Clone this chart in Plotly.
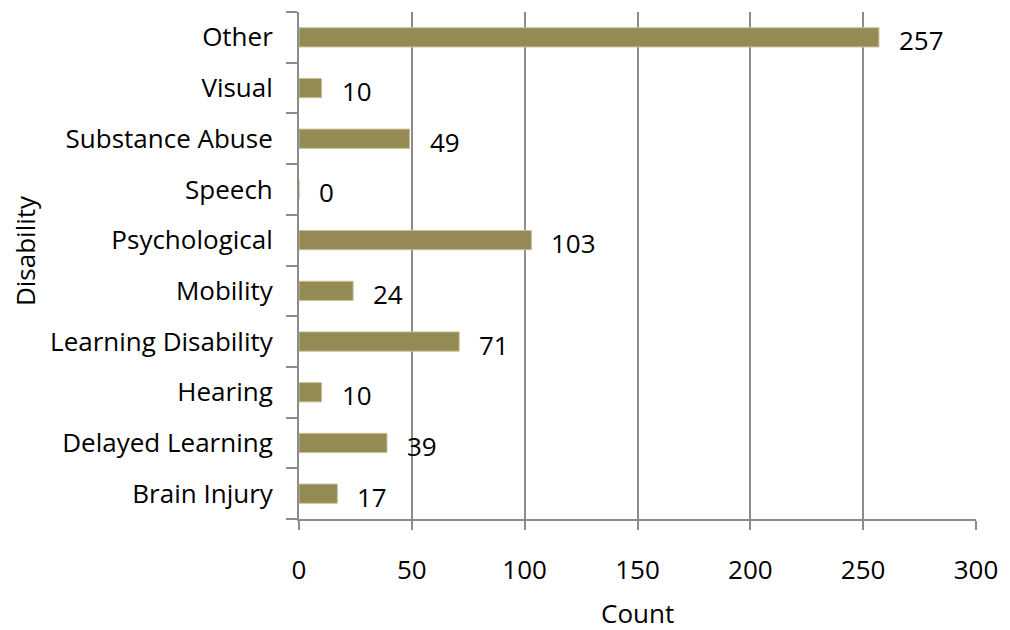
import plotly.graph_objects as go

categories = ["Brain Injury", "Delayed Learning", "Hearing", "Learning Disability",
              "Mobility", "Psychological", "Speech", "Substance Abuse", "Visual", "Other"]
counts = [17, 39, 10, 71, 24, 103, 0, 49, 10, 257]
x_ticks = [0, 50, 100, 150, 200, 250, 300]
x_title = "Count"
y_title = "Disability"

FONT = "Open Sans"
FS = 26
GRAY = "#8c8c8c"
BAR = "#948a54"

fig = go.Figure(go.Bar(
    x=counts, y=categories, orientation="h",
    marker=dict(color=BAR, line=dict(color="#c9c29a", width=1)),
    width=0.38,
))

for c, v in zip(categories, counts):
    fig.add_annotation(x=v, y=c, text=str(v), showarrow=False,
                       xanchor="left", yanchor="middle", xshift=18, yshift=-3,
                       font=dict(family=FONT, size=FS, color="black"))

fig.add_annotation(xref="paper", yref="paper", x=0.5, y=-0.185, text=x_title,
                   showarrow=False, xanchor="center", yanchor="middle",
                   font=dict(family=FONT, size=FS, color="black"))
fig.add_annotation(xref="paper", yref="paper", x=-0.405, y=0.53, text=y_title,
                   showarrow=False, xanchor="center", yanchor="middle", textangle=-90,
                   font=dict(family=FONT, size=FS, color="black"))

fig.update_layout(
    width=1010, height=630,
    margin=dict(l=299, r=27, t=12, b=111),
    paper_bgcolor="white", plot_bgcolor="white",
    showlegend=False,
    font=dict(family=FONT, size=FS, color="black"),
    xaxis=dict(
        range=[0, 300], tickvals=x_ticks, ticktext=[str(t) for t in x_ticks],
        showgrid=True, gridcolor=GRAY, gridwidth=2,
        showline=True, linecolor=GRAY, linewidth=2,
        ticks="outside", ticklen=9, tickcolor=GRAY, tickwidth=2,
        ticklabelstandoff=18, zeroline=False,
        tickfont=dict(family=FONT, size=FS, color="black"),
    ),
    yaxis=dict(
        type="category", categoryorder="array", categoryarray=categories,
        range=[-0.5, 9.5],
        showline=True, linecolor=GRAY, linewidth=2,
        ticks="outside", tickson="boundaries", ticklen=11, tickcolor=GRAY, tickwidth=2,
        ticklabelstandoff=19, showgrid=False,
        tickfont=dict(family=FONT, size=FS, color="black"),
    ),
)

fig.write_html("out.html", config={"displayModeBar": False},
               post_script="document.body.style.margin='0';")
